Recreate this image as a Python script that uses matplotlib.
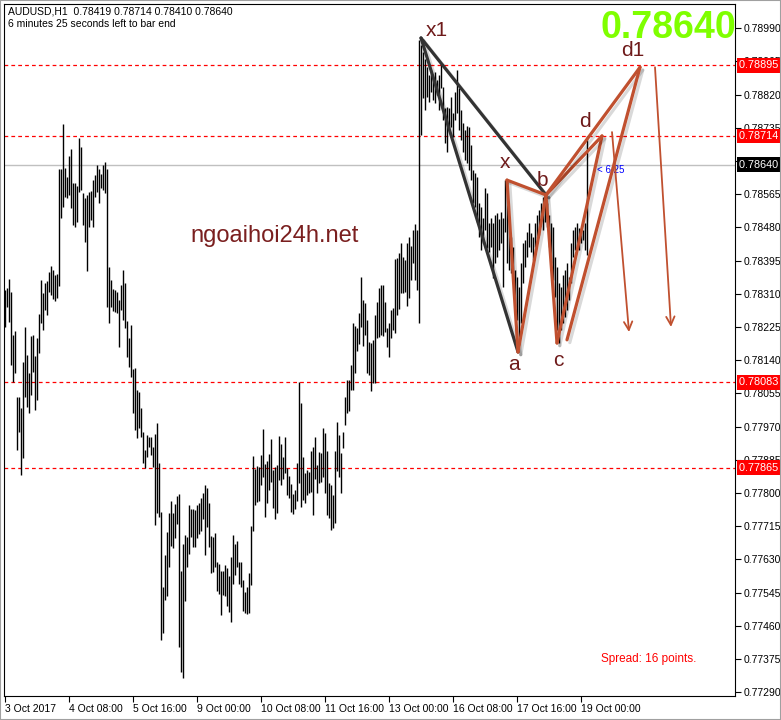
import matplotlib
matplotlib.use("Agg")
import matplotlib.pyplot as plt
import matplotlib.patheffects as pe
import matplotlib.transforms as mtransforms
from matplotlib.patches import Rectangle
import numpy as np

plt.rcParams['font.family'] = ['Liberation Sans', 'DejaVu Sans']

# AUDUSD H1 bars, 3 Oct 2017 00:00 .. 19 Oct 2017 (high / low)
highs = [
    0.78320, 0.78325, 0.78348, 0.78315, 0.78204, 0.78215, 0.78046, 0.78046, 0.78018, 0.78135,
    0.78225, 0.78153, 0.78107, 0.78202, 0.78204, 0.78151, 0.78197, 0.78258, 0.78345, 0.78312,
    0.78337, 0.78343, 0.78366, 0.78381, 0.78371, 0.78358, 0.78361, 0.78629, 0.78629, 0.78745,
    0.78632, 0.78609, 0.78663, 0.78681, 0.78594, 0.78594, 0.78586, 0.78709, 0.78686, 0.78568,
    0.78555, 0.78563, 0.78571, 0.78573, 0.78601, 0.78614, 0.78640, 0.78629, 0.78617, 0.78640,
    0.78647, 0.78629, 0.78379, 0.78345, 0.78322, 0.78320, 0.78315, 0.78294, 0.78332, 0.78371,
    0.78337, 0.78240, 0.78197, 0.78230, 0.78117, 0.78120, 0.78064, 0.78058, 0.78018, 0.77956,
    0.77910, 0.77948, 0.77943, 0.77943, 0.77918, 0.77951, 0.77979, 0.77877, 0.77751, 0.77559,
    0.77641, 0.77700, 0.77749, 0.77779, 0.77749, 0.77772, 0.77792, 0.77797, 0.77600, 0.77669,
    0.77692, 0.77687, 0.77769, 0.77759, 0.77759, 0.77756, 0.77769, 0.77774, 0.77787, 0.77800,
    0.77820, 0.77813, 0.77774, 0.77690, 0.77687, 0.77698, 0.77623, 0.77618, 0.77600, 0.77600,
    0.77616, 0.77608, 0.77587, 0.77636, 0.77692, 0.77669, 0.77677, 0.77623, 0.77623, 0.77577,
    0.77547, 0.77559, 0.77595, 0.77715, 0.77895, 0.77861, 0.77869, 0.77867, 0.77897, 0.77964,
    0.77874, 0.77882, 0.77900, 0.77938, 0.77859, 0.77867, 0.77872, 0.77946, 0.77925, 0.77892,
    0.77943, 0.77864, 0.77843, 0.77823, 0.77797, 0.77808, 0.77877, 0.78084, 0.78030, 0.77892,
    0.77851, 0.77859, 0.77854, 0.77907, 0.77918, 0.77943, 0.77872, 0.77905, 0.77902, 0.77966,
    0.77954, 0.77907, 0.77826, 0.77820, 0.77795, 0.77907, 0.77982, 0.77948, 0.77902, 0.77956,
    0.78046, 0.78089, 0.78089, 0.78128, 0.78235, 0.78227, 0.78222, 0.78261, 0.78353, 0.78294,
    0.78286, 0.78243, 0.78187, 0.78184, 0.78192, 0.78256, 0.78289, 0.78325, 0.78332, 0.78332,
    0.78289, 0.78222, 0.78235, 0.78268, 0.78273, 0.78399, 0.78401, 0.78414, 0.78440, 0.78404,
    0.78396, 0.78440, 0.78455, 0.78432, 0.78473, 0.78489, 0.78473, 0.78960, 0.78947, 0.78929,
    0.78911, 0.78891, 0.78870, 0.78883, 0.78862, 0.78878, 0.78857, 0.78870, 0.78901, 0.78839,
    0.78785, 0.78788, 0.78785, 0.78814, 0.78773, 0.78826, 0.78883, 0.78837, 0.78780, 0.78747,
    0.78729, 0.78739, 0.78737, 0.78691, 0.78627, 0.78619, 0.78609, 0.78542, 0.78532, 0.78504,
    0.78581, 0.78568, 0.78491, 0.78504, 0.78491, 0.78512, 0.78517, 0.78501, 0.78519, 0.78504,
    0.78601, 0.78596, 0.78507, 0.78455, 0.78430, 0.78371, 0.78353, 0.78327, 0.78389, 0.78440,
    0.78448, 0.78468, 0.78491, 0.78466, 0.78455, 0.78491, 0.78512, 0.78524, 0.78542, 0.78558,
    0.78555, 0.78542, 0.78512, 0.78491, 0.78481, 0.78404, 0.78379, 0.78337, 0.78327, 0.78358,
    0.78371, 0.78389, 0.78353, 0.78440, 0.78473, 0.78481, 0.78491, 0.78478, 0.78473, 0.78473,
    0.78491, 0.78714,
]
lows = [
    0.78225, 0.78276, 0.78238, 0.78128, 0.78084, 0.78107, 0.77910, 0.77956, 0.77846, 0.77890,
    0.78046, 0.78020, 0.78005, 0.78051, 0.78110, 0.78012, 0.78038, 0.78158, 0.78235, 0.78217,
    0.78268, 0.78256, 0.78315, 0.78307, 0.78297, 0.78291, 0.78299, 0.78330, 0.78504, 0.78532,
    0.78558, 0.78555, 0.78563, 0.78530, 0.78486, 0.78481, 0.78494, 0.78571, 0.78576, 0.78486,
    0.78443, 0.78368, 0.78481, 0.78499, 0.78481, 0.78558, 0.78571, 0.78542, 0.78581, 0.78576,
    0.78568, 0.78276, 0.78235, 0.78276, 0.78266, 0.78263, 0.78261, 0.78174, 0.78268, 0.78243,
    0.78222, 0.78148, 0.78122, 0.78097, 0.78005, 0.77961, 0.77941, 0.77966, 0.77943, 0.77877,
    0.77864, 0.77892, 0.77918, 0.77897, 0.77867, 0.77718, 0.77749, 0.77739, 0.77424, 0.77442,
    0.77526, 0.77536, 0.77610, 0.77664, 0.77659, 0.77685, 0.77721, 0.77406, 0.77342, 0.77326,
    0.77523, 0.77610, 0.77644, 0.77687, 0.77662, 0.77662, 0.77685, 0.77695, 0.77703, 0.77733,
    0.77641, 0.77713, 0.77662, 0.77595, 0.77598, 0.77610, 0.77549, 0.77541, 0.77488, 0.77539,
    0.77536, 0.77511, 0.77495, 0.77470, 0.77567, 0.77590, 0.77610, 0.77567, 0.77559, 0.77498,
    0.77493, 0.77490, 0.77493, 0.77564, 0.77703, 0.77769, 0.77777, 0.77779, 0.77820, 0.77841,
    0.77739, 0.77774, 0.77808, 0.77828, 0.77761, 0.77733, 0.77749, 0.77833, 0.77820, 0.77836,
    0.77851, 0.77795, 0.77787, 0.77751, 0.77746, 0.77759, 0.77779, 0.77826, 0.77764, 0.77782,
    0.77774, 0.77795, 0.77800, 0.77803, 0.77744, 0.77836, 0.77800, 0.77826, 0.77828, 0.77841,
    0.77800, 0.77744, 0.77736, 0.77705, 0.77710, 0.77723, 0.77856, 0.77841, 0.77800, 0.77915,
    0.77974, 0.78005, 0.78010, 0.78064, 0.78064, 0.78107, 0.78163, 0.78181, 0.78225, 0.78176,
    0.78204, 0.78107, 0.78102, 0.78061, 0.78081, 0.78081, 0.78197, 0.78199, 0.78204, 0.78202,
    0.78212, 0.78174, 0.78148, 0.78197, 0.78217, 0.78209, 0.78256, 0.78271, 0.78312, 0.78312,
    0.78315, 0.78279, 0.78299, 0.78345, 0.78389, 0.78345, 0.78320, 0.78235, 0.78716, 0.78811,
    0.78780, 0.78814, 0.78801, 0.78826, 0.78806, 0.78798, 0.78819, 0.78780, 0.78837, 0.78755,
    0.78696, 0.78673, 0.78729, 0.78737, 0.78711, 0.78755, 0.78773, 0.78729, 0.78704, 0.78673,
    0.78652, 0.78645, 0.78627, 0.78601, 0.78542, 0.78532, 0.78494, 0.78455, 0.78422, 0.78440,
    0.78473, 0.78427, 0.78417, 0.78430, 0.78350, 0.78389, 0.78404, 0.78422, 0.78440, 0.78327,
    0.78468, 0.78389, 0.78371, 0.78363, 0.78350, 0.78276, 0.78243, 0.78179, 0.78235, 0.78337,
    0.78379, 0.78404, 0.78430, 0.78417, 0.78396, 0.78430, 0.78453, 0.78460, 0.78507, 0.78473,
    0.78494, 0.78481, 0.78430, 0.78389, 0.78345, 0.78302, 0.78217, 0.78184, 0.78217, 0.78235,
    0.78251, 0.78268, 0.78294, 0.78337, 0.78404, 0.78422, 0.78430, 0.78422, 0.78440, 0.78448,
    0.78422, 0.78410,
]

price_ticks = [0.78990, 0.78905, 0.78820, 0.78735, 0.78650, 0.78565, 0.78480, 0.78395,
               0.78310, 0.78225, 0.78140, 0.78055, 0.77970, 0.77885, 0.77800, 0.77715,
               0.77630, 0.77545, 0.77460, 0.77375, 0.77290]
date_ticks = [0, 32, 64, 96, 128, 160, 192, 224, 256, 288]
date_labels = ["3 Oct 2017", "4 Oct 08:00", "5 Oct 16:00", "9 Oct 00:00", "10 Oct 08:00",
               "11 Oct 16:00", "13 Oct 00:00", "16 Oct 08:00", "17 Oct 16:00", "19 Oct 00:00"]

red_levels = [0.78895, 0.78714, 0.78083, 0.77865]
bid = 0.78640

# harmonic pattern points (bar index, price)
pt_name = ["x1", "a", "b", "x", "c", "d", "d1", "c2"]
pt_bar = [208, 256.5, 270.5, 251, 276, 298.5, 317.5, 281]
pt_price = [0.78965, 0.78161, 0.78563, 0.78601, 0.78184, 0.78714, 0.78890, 0.78192]
black_legs = [("x1", "a"), ("x1", "b")]
red_legs = [("x", "a"), ("a", "b"), ("b", "x"), ("b", "c"), ("c", "d"), ("d", "b"),
            ("b", "d1"), ("d1", "c2")]

lbl_text = ["x1", "x", "b", "a", "c", "d", "d1"]
lbl_bar = [216, 250, 268.5, 254.5, 276.5, 290, 314]
lbl_price = [0.78985, 0.78645, 0.78601, 0.78128, 0.78140, 0.78752, 0.78934]

arrow_from_bar = [303.5, 325]
arrow_from_price = [0.78724, 0.78890]
arrow_to_bar = [312, 333]
arrow_to_price = [0.78212, 0.78225]

W, H = 781, 720
fig = plt.figure(figsize=(W / 100, H / 100), dpi=100)
ax = fig.add_axes([4 / W, 24 / H, 731 / W, 692 / H])

bars = np.arange(len(highs))
ax.vlines(bars, lows, highs, color="black", lw=1.0, zorder=2)

ax.set_xlim(-0.5, 365)
ax.set_ylim(0.77280, 0.79052)

for lv in red_levels:
    ax.axhline(lv, color="red", lw=0.9, ls=(0, (3, 2.5)), zorder=1)
ax.axhline(bid, color="#c0c0c0", lw=1.0, zorder=0.5)

# pattern
pos = {n: (b, p) for n, b, p in zip(pt_name, pt_bar, pt_price)}
shadow = [pe.SimpleLineShadow(offset=(2, -2), shadow_color="black", alpha=0.15), pe.Normal()]
for p0, p1 in black_legs:
    ax.plot([pos[p0][0], pos[p1][0]], [pos[p0][1], pos[p1][1]], color="#333333", lw=2.3,
            solid_capstyle="round", zorder=4, path_effects=shadow)
for p0, p1 in red_legs:
    ax.plot([pos[p0][0], pos[p1][0]], [pos[p0][1], pos[p1][1]], color="#c0502f", lw=2.3,
            solid_capstyle="round", zorder=5, path_effects=shadow)

for t, b, p in zip(lbl_text, lbl_bar, lbl_price):
    ax.text(b, p, t, color="#6e1a1a", fontsize=15, ha="center", va="center", zorder=6)

for b0, p0, b1, p1 in zip(arrow_from_bar, arrow_from_price, arrow_to_bar, arrow_to_price):
    ax.annotate("", xy=(b1, p1), xytext=(b0, p0), zorder=5,
                arrowprops=dict(arrowstyle="->,head_length=0.6,head_width=0.3",
                                color="#c0502f", lw=1.3, shrinkA=0, shrinkB=0))

ax.text(296, bid - 0.00012, "< 6:25", color="blue", fontsize=7, ha="left", va="center", zorder=3)

# axes styling
for s in ax.spines.values():
    s.set_color("black")
    s.set_linewidth(0.8)
ax.yaxis.tick_right()
ax.set_yticks(price_ticks)
ax.set_yticklabels([f"{v:.5f}" for v in price_ticks])
ax.set_xticks(date_ticks)
ax.set_xticklabels(date_labels)
for lbl in ax.get_xticklabels():
    lbl.set_horizontalalignment("left")
ax.tick_params(axis="y", direction="out", length=4, width=0.8, labelsize=7.5, pad=2)
ax.tick_params(axis="x", direction="out", length=4, width=0.8, labelsize=7.5, pad=2)

# price boxes on the right scale
trans = mtransforms.blended_transform_factory(ax.transAxes, ax.transData)
for lv in red_levels:
    ax.text(1.006, lv, f"{lv:.5f} ", transform=trans, ha="left", va="center", color="white",
            fontsize=7.8, clip_on=False, zorder=10,
            bbox=dict(facecolor="red", edgecolor="none", pad=1.8))
ax.text(1.006, bid, f"{bid:.5f} ", transform=trans, ha="left", va="center", color="white",
        fontsize=7.8, clip_on=False, zorder=10,
        bbox=dict(facecolor="black", edgecolor="none", pad=1.8))

# header and labels
fig.text(8 / W, 1 - 12 / H, "AUDUSD,H1  0.78419 0.78714 0.78410 0.78640", fontsize=7.5,
         ha="left", va="center")
fig.text(8 / W, 1 - 24 / H, "6 minutes 25 seconds left to bar end", fontsize=7.5,
         ha="left", va="center")
fig.text(736 / W, 1 - 28 / H, "0.78640", fontsize=27, fontweight="bold", color="#7fff00",
         ha="right", va="center")
fig.text(190 / W, 1 - 236 / H, "ngoaihoi24h.net", fontsize=17, color="#7a1f1f",
         ha="left", va="center")
fig.text(601 / W, 1 - 659 / H, "Spread: 16 points.", fontsize=8.5, color="red",
         ha="left", va="center")

fig.patches.append(Rectangle((0, 0), 1, 1, transform=fig.transFigure, fill=False,
                             edgecolor="#a0a0a0", lw=1.5))

fig.savefig("out.png", dpi=100)
